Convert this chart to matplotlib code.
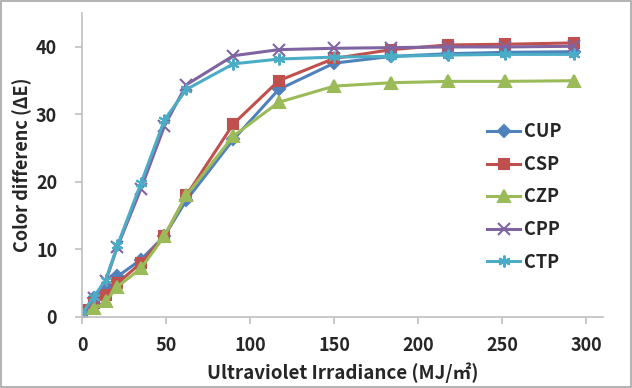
import matplotlib
matplotlib.use('Agg')
from matplotlib import pyplot as plt
from matplotlib.patches import Rectangle

plt.rcParams['font.family'] = ['Noto Sans CJK KR', 'DejaVu Sans']
plt.rcParams['font.weight'] = 'bold'

#===== data
irradiance = [0, 7, 14, 21, 35, 49, 62, 90, 117, 150, 184, 218, 252, 293]
cup = [0.5, 2.8, 4.2, 6.0, 8.5, 12.0, 17.3, 26.3, 33.7, 37.6, 38.6, 39.0, 39.2, 39.3]
csp = [1.0, 2.0, 3.2, 5.0, 8.0, 12.0, 18.0, 28.6, 35.0, 38.3, 39.6, 40.3, 40.4, 40.6]
czp = [0.3, 1.3, 2.3, 4.5, 7.2, 12.0, 18.0, 26.8, 31.8, 34.2, 34.7, 34.9, 34.9, 35.0]
cpp = [0.3, 2.8, 5.3, 10.4, 19.0, 28.3, 34.4, 38.7, 39.6, 39.8, 39.9, 40.0, 40.0, 40.1]
ctp = [0.5, 3.0, 5.5, 10.6, 19.8, 29.2, 33.7, 37.5, 38.2, 38.5, 38.6, 38.8, 38.9, 38.9]

series = ['CUP', 'CSP', 'CZP', 'CPP', 'CTP']
valores = [cup, csp, czp, cpp, ctp]
cores = ['#4F81BD', '#C0504D', '#9BBB59', '#8064A2', '#4BACC6']
marcadores = ['D', 's', '^', 'x', (6, 2, 0)]
tamanhos = [6.5, 6.5, 8.5, 8.5, 8.5]

fig = plt.figure(figsize=(6.32, 3.88), dpi=100)
ax = fig.add_axes([0.130, 0.183, 0.824, 0.783])

for nome, v, c, m, ms in zip(series, valores, cores, marcadores, tamanhos):
    ax.plot(irradiance, v, color=c, linewidth=2.2, marker=m, markersize=ms,
            markeredgewidth=1.5, markeredgecolor=c, markerfacecolor=c, label=nome)

ax.set_xlim(0, 310)
ax.set_ylim(0, 45)
ax.set_xticks([0, 50, 100, 150, 200, 250, 300])
ax.set_yticks([0, 10, 20, 30, 40])
for s in ['top', 'right']:
    ax.spines[s].set_visible(False)
for s in ['left', 'bottom']:
    ax.spines[s].set_color('#BFBFBF')
    ax.spines[s].set_linewidth(1.2)
ax.tick_params(colors='#BFBFBF', labelcolor='#262626', length=5, width=1.2,
               labelsize=13)
ax.tick_params(axis='x', pad=9)
ax.tick_params(axis='y', pad=13)
for t in ax.get_xticklabels() + ax.get_yticklabels():
    t.set_fontweight('bold')

ax.set_xlabel('Ultraviolet Irradiance (MJ/㎡)', fontsize=13.5, fontweight='bold',
              color='#262626', labelpad=5)
ax.set_ylabel('Color differenc (ΔE)', fontsize=13, fontweight='bold',
              color='#262626', labelpad=3)

leg = ax.legend(loc='center left', bbox_to_anchor=(0.747, 0.395), frameon=False,
                fontsize=13, labelspacing=0.75, handlelength=1.8, handletextpad=0.2)
for t in leg.get_texts():
    t.set_fontweight('bold')
    t.set_color('#262626')

fig.patches.append(Rectangle((0.002, 0.003), 0.996, 0.994, transform=fig.transFigure,
                             fill=False, edgecolor='#A6A6A6', linewidth=1.2))

plt.savefig('out.png', dpi=100)
